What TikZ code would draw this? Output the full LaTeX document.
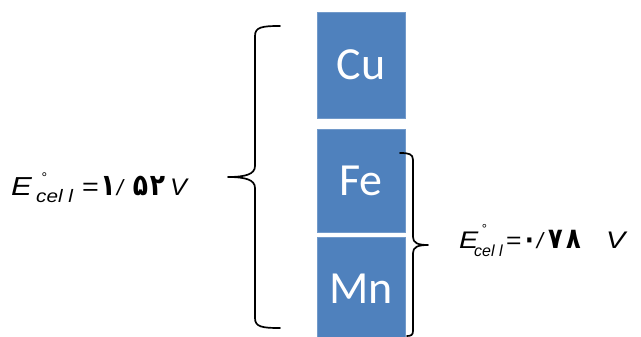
\documentclass[tikz,border=0pt]{standalone}
\usepackage{fontspec}
\usepackage{graphicx}
\setmainfont{Liberation Sans}
\newfontfamily\boxfont{Carlito}
\newfontfamily\digfont{DejaVu Sans}
\definecolor{boxblue}{RGB}{79,129,189}
\newcommand{\wide}[2]{\scalebox{#1}[1]{#2}}
\newcommand{\tall}[2]{\scalebox{1}[#1]{#2}}
\tikzset{
  elem/.style={fill=boxblue, draw=boxblue!80!white, line width=0.8pt, minimum width=88pt, inner sep=0pt, text=white, font=\boxfont\fontsize{46}{50}\selectfont},
  bracepath/.style={line width=1.7pt, line join=round, line cap=round},
  eqpart/.style={inner sep=0pt, anchor=base west},
  digl/.style={inner sep=0pt, anchor=base, font=\digfont\bfseries\fontsize{25}{30}\selectfont},
  digr/.style={inner sep=0pt, anchor=base, font=\digfont\bfseries\fontsize{24}{29}\selectfont},
  slash/.style={inner sep=0pt, anchor=base, font=\itshape\fontsize{22}{26}\selectfont},
}
\begin{document}
\begin{tikzpicture}[x=1pt,y=-1pt]
\useasboundingbox (0,0) rectangle (641,337);
% element boxes
\node[elem, minimum height=106pt] (cu) at (361,65) {Cu};
\node[elem, minimum height=103pt] (fe) at (361,180.5) {Fe};
\node[elem, minimum height=103pt] (mn) at (361,288.5) {Mn};
% left brace
\draw[bracepath] (280,26) .. controls (262,26) and (255,27) .. (255,36) -- (255,166)
   .. controls (255,174) and (246,177) .. (228,177)
   .. controls (246,177) and (255,180) .. (255,188) -- (255,318)
   .. controls (255,327) and (262,328) .. (280,328);
% right brace
\draw[bracepath] (400,153) .. controls (409,153) and (413,154) .. (413,160) -- (413,237)
   .. controls (413,243) and (418,245) .. (428,245)
   .. controls (418,245) and (413,247) .. (413,253) -- (413,331)
   .. controls (413,335) and (411,336) .. (407,336);
% left equation
\node[eqpart, font=\itshape\fontsize{26}{30}\selectfont] (lE) at (11,195) {\wide{1.2}{E}};
\node[inner sep=0pt, anchor=north, font=\fontsize{14}{16}\selectfont] (ldeg) at (44.5,173) {°};
\node[eqpart, font=\itshape\fontsize{18}{22}\selectfont] (lsub) at (36,203) {\wide{1.15}{cel l}};
\node[eqpart, font=\fontsize{25}{28}\selectfont] (leq) at (82,195) {\wide{1.15}{=}};
\node[digl] (l1) at (108,195) {\tall{1.2}{۱}};
\node[slash] (lsl) at (120,195) {/};
\node[digl] (l5) at (140.5,195) {\tall{1.2}{۵}};
\node[digl] (l2) at (157.5,195) {\tall{1.2}{۲}};
\node[eqpart, font=\itshape\fontsize{24}{28}\selectfont] (lV) at (170,195) {\wide{1.05}{V}};
% right equation
\node[eqpart, font=\itshape\fontsize{24}{28}\selectfont] (rE) at (459,248) {\wide{1.2}{E}};
\node[inner sep=0pt, anchor=north, font=\fontsize{13}{15}\selectfont] (rdeg) at (484.5,224) {°};
\node[eqpart, font=\itshape\fontsize{16}{20}\selectfont] (rsub) at (474,256) {cel l};
\node[eqpart, font=\fontsize{23}{27}\selectfont] (req) at (506,248) {\wide{1.15}{=}};
\node[digr] (r0) at (529.5,248) {\tall{1.2}{۰}};
\node[slash] (rsl) at (540,248) {/};
\node[digr] (r7) at (555.5,248) {\tall{1.2}{۷}};
\node[digr] (r8) at (573.5,248) {\tall{1.2}{۸}};
\node[eqpart, font=\itshape\fontsize{24}{28}\selectfont] (rV) at (606,248) {\wide{1.2}{V}};
\end{tikzpicture}
\end{document}
